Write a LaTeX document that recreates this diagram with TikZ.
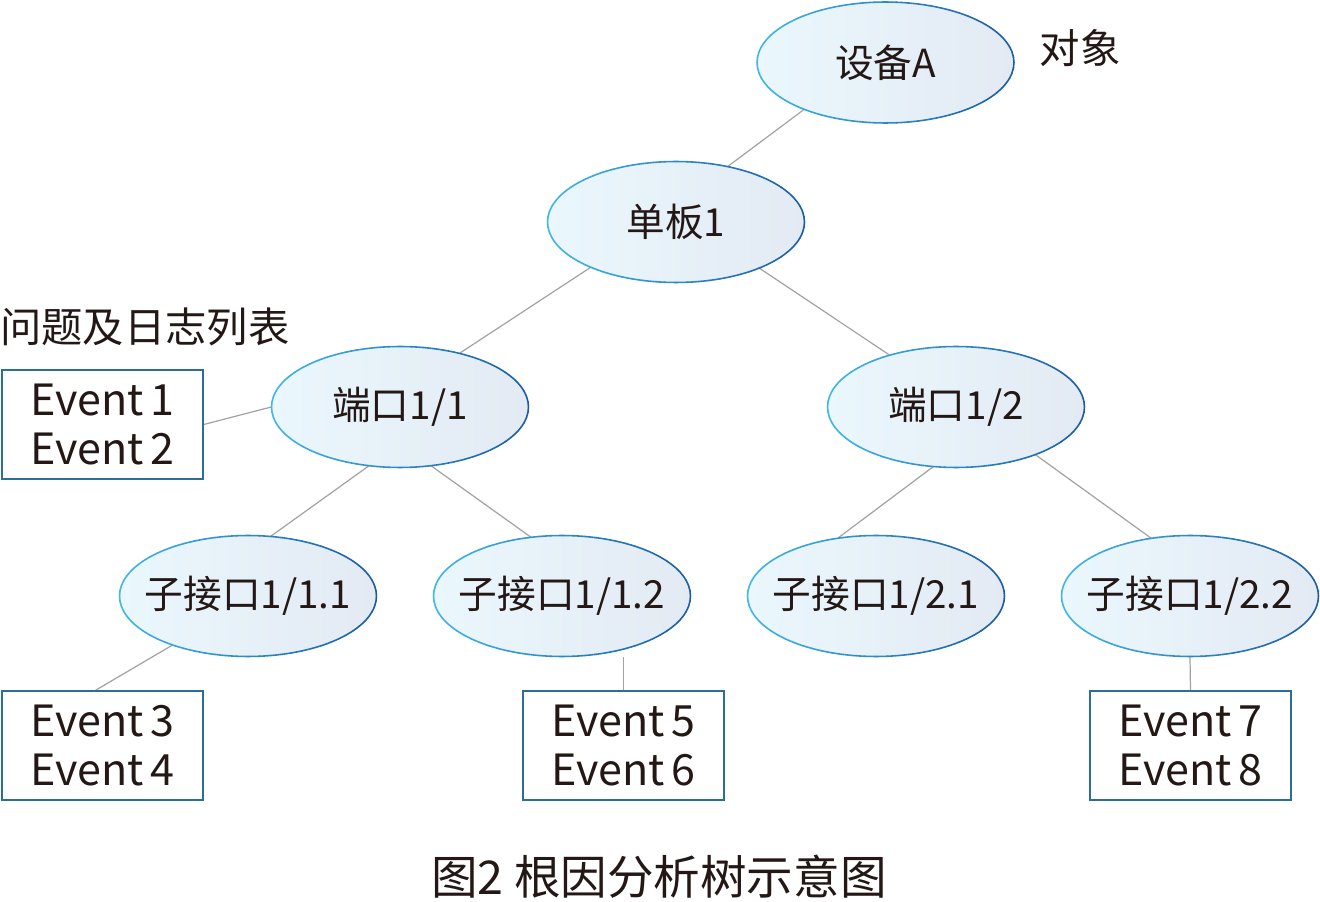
\documentclass[tikz,border=0pt]{standalone}
\usepackage{fontspec}
\setmainfont{Noto Sans CJK SC}
\usepackage{xcolor}
\usetikzlibrary{positioning,backgrounds,shapes.geometric}

\definecolor{inkdark}{HTML}{231815}
\definecolor{fillL}{HTML}{EAF7FD}
\definecolor{fillR}{HTML}{E3EAF3}
\definecolor{rimL}{HTML}{41B6E8}
\definecolor{rimR}{HTML}{1A5CA3}
\definecolor{boxrim}{HTML}{2B6F98}
\definecolor{linkgray}{HTML}{A3A3A3}

\tikzset{
  % negative inner sep: the ellipse keeps its minimum size, whatever the text width
  objnode/.style={ellipse, minimum width=5.14cm, minimum height=2.42cm, inner sep=-1.2cm,
    left color=fillL, right color=fillR, text=inkdark,
    font=\fontsize{22}{26}\selectfont},
  logbox/.style={rectangle, draw=boxrim, line width=0.9pt, minimum width=4.02cm,
    minimum height=2.18cm, inner sep=0pt, align=center, text=inkdark,
    font=\fontsize{24.5}{28.3}\selectfont},
  link/.style={draw=linkgray, line width=0.7pt},
  rim/.style={line width=0.9pt, line cap=round},
  tag/.style={text=inkdark, inner sep=0pt, font=\fontsize{23}{27}\selectfont}
}

\begin{document}
\begin{tikzpicture}[x=0.02cm, y=-0.02cm]
        \useasboundingbox (0,0) rectangle (1320,902);
        % 对象 (椭圆)
        \node[objnode] (devA)  at (885.5,62.5) {设备A};
        \node[objnode] (board) at (676,222)    {单板1};
        \node[objnode] (p11)   at (400,407)    {端口1/1};
        \node[objnode] (p12)   at (956,407)    {端口1/2};
        \node[objnode] (s111)  at (248,596)    {子接口1/1.1};
        \node[objnode] (s112)  at (562,596)    {子接口1/1.2};
        \node[objnode] (s121)  at (876,596)    {子接口1/2.1};
        \node[objnode] (s122)  at (1190,596)   {子接口1/2.2};
        % 渐变边框: 左浅蓝, 右深蓝
        \foreach \n in {devA,board,p11,p12,s111,s112,s121,s122}
          \foreach \a in {0,5,...,355} {
            \pgfmathtruncatemacro\mixp{50*(1+cos(\a+2.5))}
            \draw[rim, rimR!\mixp!rimL] (\n.center) ++(\a:2.57cm and 1.21cm)
              arc[start angle=\a, delta angle=5, x radius=2.57cm, y radius=1.21cm];
          }
        % 问题及日志列表
        \node[logbox] (ev12) at (102.5,424.5) {Event\,1\\Event\,2};
        \node[logbox] (ev34) at (102.5,745.5) {Event\,3\\Event\,4};
        \node[logbox] (ev56) at (623.5,745.5) {Event\,5\\Event\,6};
        \node[logbox] (ev78) at (1190.5,745.5) {Event\,7\\Event\,8};
        % 文字标注
        \node[tag] (objtag) at (1080,48)  {对象};
        \node[tag, anchor=west, font=\fontsize{23.5}{27}\selectfont] (logtag) at (0,327) {问题及日志列表};
        \node[tag, font=\fontsize{26.5}{30}\selectfont] (caption) at (659,877) {图2 根因分析树示意图};
        % 连线
        \begin{scope}[on background layer]
          \draw[link] (devA.210)  -- (board.47);
          \draw[link] (board.208) -- (p11.42);
          \draw[link] (board.331) -- (p12.142);
          \draw[link] (p11.242)   -- (s111.69);
          \draw[link] (p11.298)   -- (s112.118);
          \draw[link] (p12.249)   -- (s121.123);
          \draw[link] (p12.329)   -- (s122.124);
          \draw[link] (ev12.east) -- (p11.west);
          \draw[link] (s111.213)  -- (ev34.97);
          \draw[link] (s112.south -| ev56.north) -- (ev56.north);
          \draw[link] (s122.south) -- (ev78.north);
        \end{scope}
    \end{tikzpicture}
\end{document}
